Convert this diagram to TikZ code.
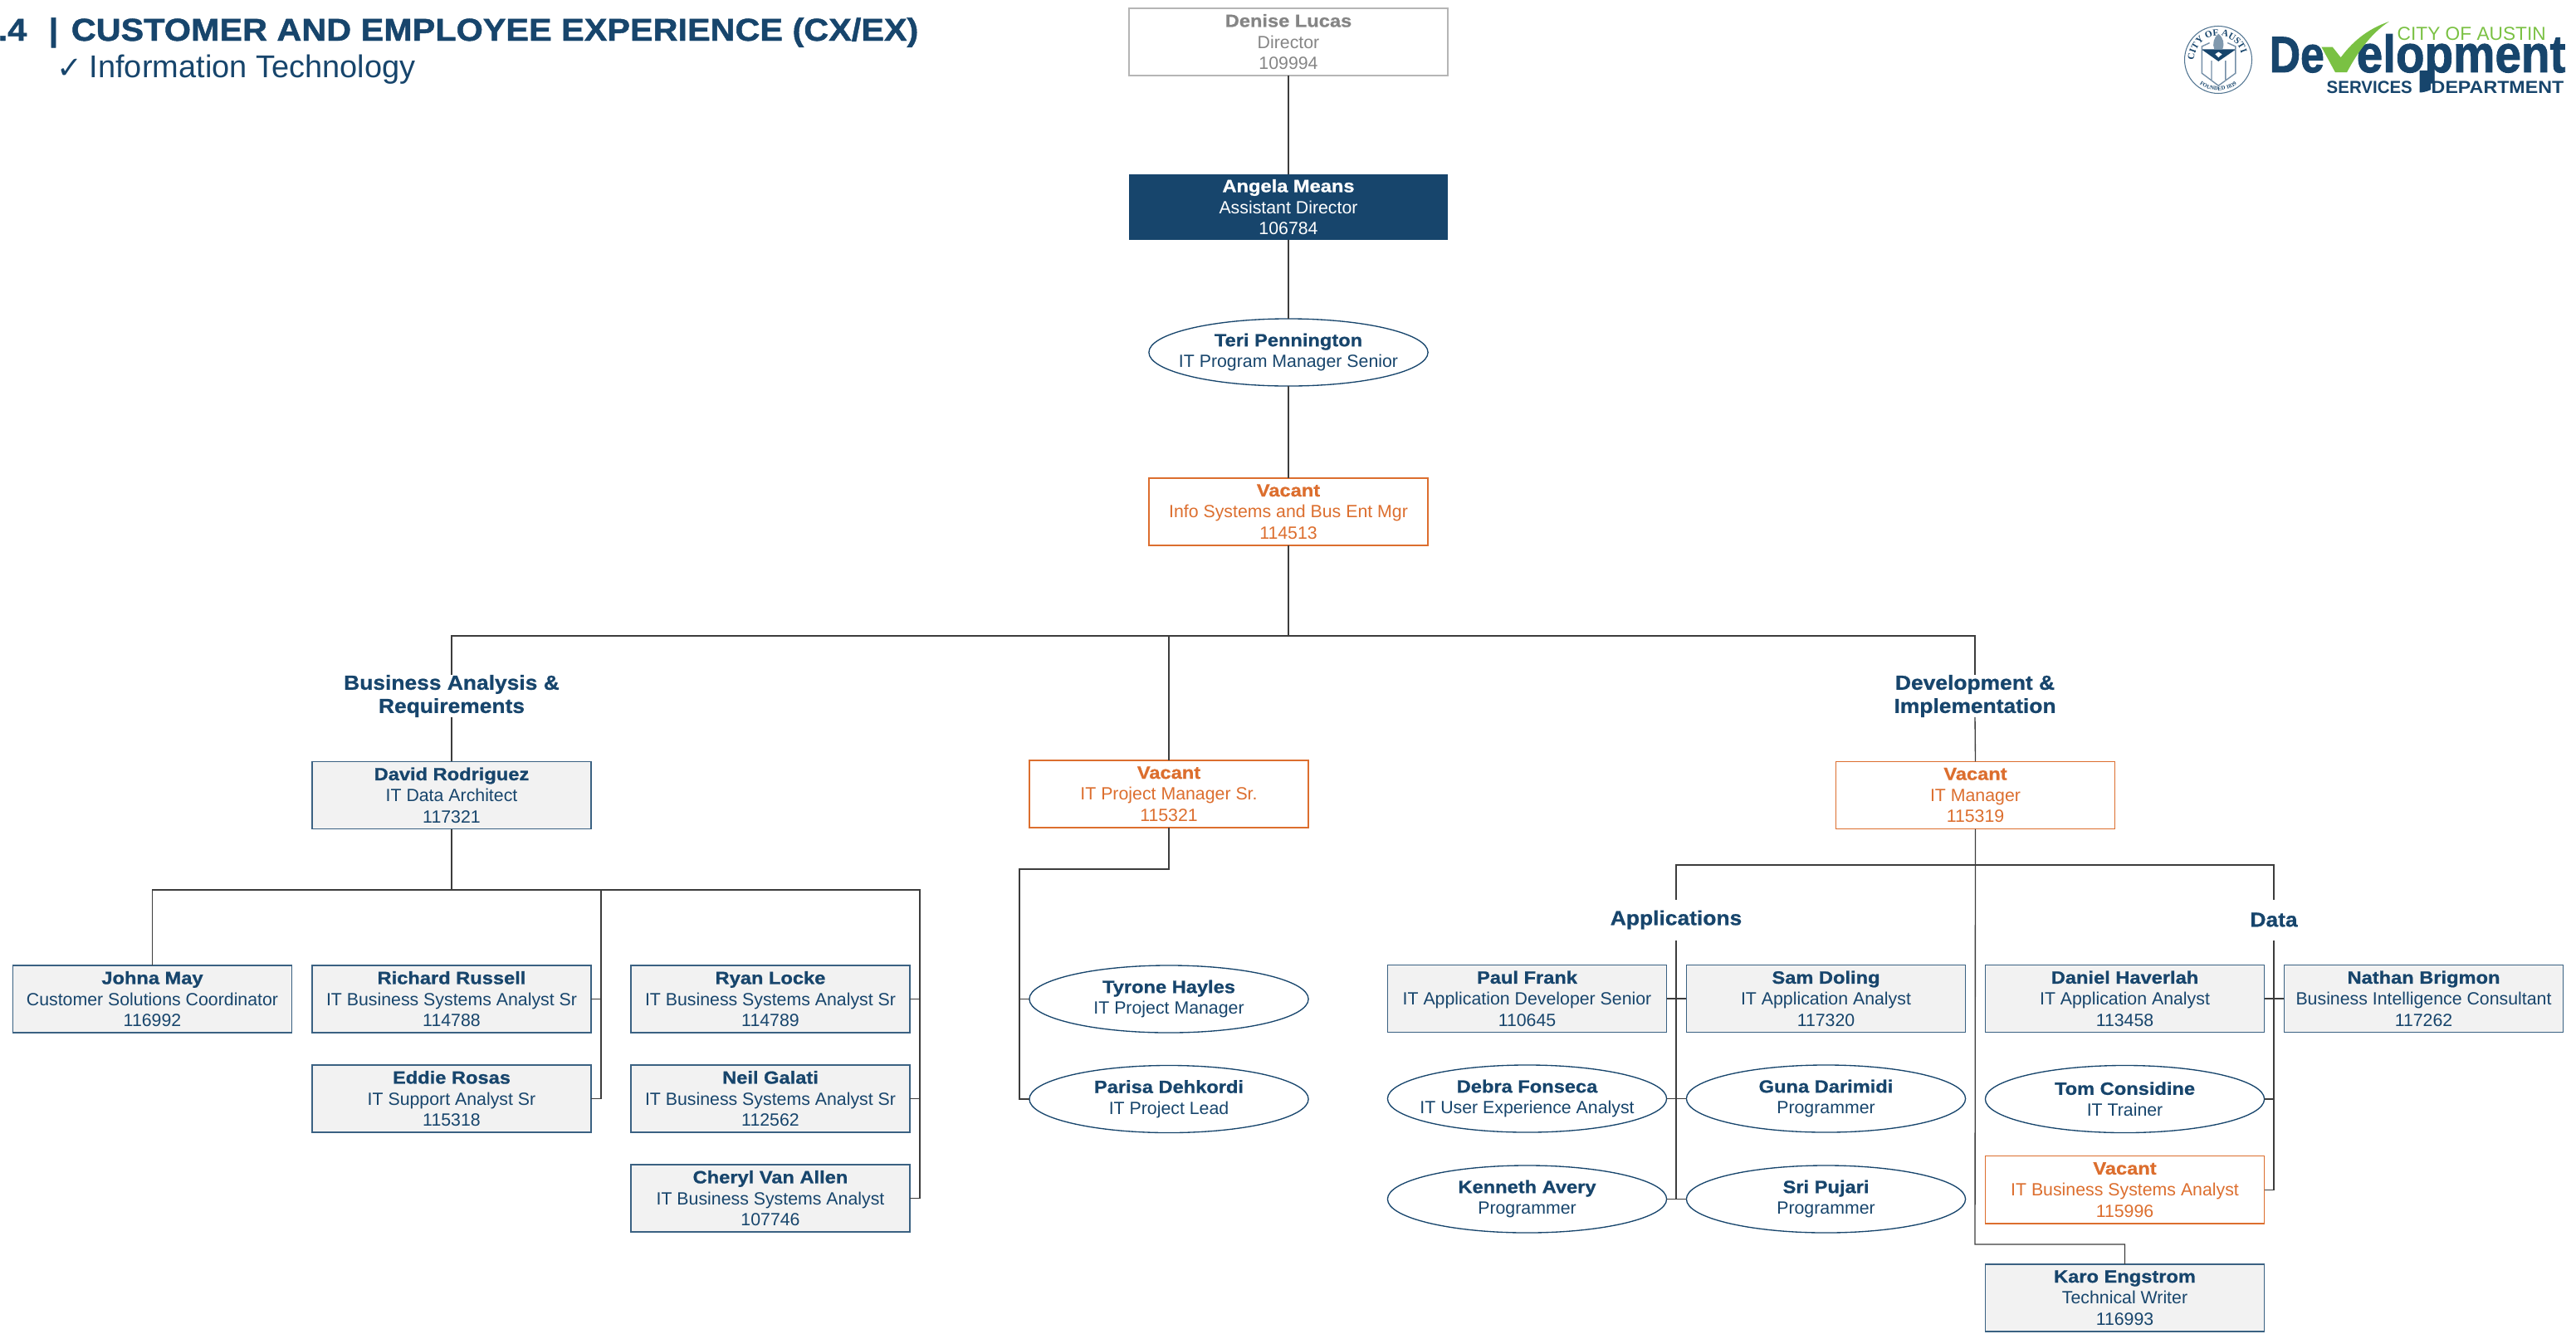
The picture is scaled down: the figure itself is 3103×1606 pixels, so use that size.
\documentclass[tikz,border=0pt]{standalone}
\usepackage{fontspec}
\usepackage{graphicx}
\usetikzlibrary{shapes.geometric,decorations.text,calc}
\setmainfont{Liberation Sans}
\newfontfamily\namef[FakeStretch=1.11,FakeBold=0.9]{Liberation Sans Bold}
\newfontfamily\grpf[FakeStretch=1.08,FakeBold=0.9]{Liberation Sans Bold}
\newfontfamily\titlef[FakeStretch=1.09,FakeBold=1.3]{Liberation Sans Bold}
\newfontfamily\logof[FakeBold=1.5]{Liberation Sans Bold}
\newfontfamily\checkf{DejaVu Sans}
\newfontfamily\sealf{Liberation Serif}
\definecolor{navy}{HTML}{17456C}
\definecolor{vac}{HTML}{DC6E2E}
\definecolor{boxgray}{HTML}{F2F2F2}
\definecolor{dirgray}{HTML}{858585}
\definecolor{dirline}{HTML}{B5B5B5}
\definecolor{connc}{HTML}{3C3C3C}
\definecolor{logogreen}{HTML}{7AC143}
\newcommand{\nm}[1]{{\namef #1}}
\tikzset{
  base/.style={inner sep=0pt,outer sep=0pt,align=center,minimum width=3.36cm,minimum height=0.81cm,
    font=\fontsize{6.06}{7.3}\selectfont},
  pbox/.style={base,draw=navy!85,line width=0.45pt,fill=boxgray,text=navy},
  vbox/.style={base,draw=vac,line width=0.42pt,text=vac},
  ell/.style={base,ellipse,inner xsep=-0.7cm,inner ysep=0pt,draw=navy,line width=0.38pt,text=navy},
  dirbox/.style={base,draw=dirline,line width=0.5pt,text=dirgray,minimum width=3.84cm},
  adbox/.style={base,fill=navy,text=white,minimum width=3.83cm,minimum height=0.79cm},
  grp/.style={inner sep=0pt,outer sep=0pt,align=center,text=navy,minimum height=0.49cm,
    font=\fontsize{6.95}{7.97}\selectfont\grpf},
  conn/.style={draw=connc,line width=0.38pt},
}
\begin{document}
\begin{tikzpicture}[x=0.01cm,y=-0.01cm]
\useasboundingbox (0,0) rectangle (3103,1606);

% heading
\node[anchor=base west,inner sep=0pt,text=navy,font=\fontsize{10.8}{12}\selectfont\titlef] (head) at (-3,49) {.4\hspace{2.65mm}|\hspace{1.55mm}CUSTOMER AND EMPLOYEE EXPERIENCE (CX/EX)};
\node[anchor=base west,inner sep=0pt,text=navy,font=\fontsize{10.8}{12}\selectfont] (subhead) at (107,93) {Information Technology};
\node[anchor=base west,inner sep=0pt,text=navy,font=\fontsize{10.5}{12}\selectfont\checkf] (tick) at (68,94) {✓};

% logo: seal
\begin{scope}[shift={(2672,72)},x=0.01cm,y=0.01cm]
  \draw[navy!75,line width=0.3pt] (0,0) circle[radius=40.5];
  \path[decorate,decoration={text along path,text align=center,text color=navy,
    text={|\fontsize{3.2}{4}\selectfont\sealf\bfseries|CITY OF AUSTIN}}]
    (165:29) arc[start angle=165,end angle=15,radius=29];
  \path[decorate,decoration={text along path,text align=center,text color=navy,
    text={|\fontsize{1.9}{3}\selectfont\sealf\bfseries|FOUNDED 1839}}]
    (218:37) arc[start angle=218,end angle=322,radius=37];
  \fill[navy] (-28,10) circle[radius=1.1] (28,10) circle[radius=1.1];
\end{scope}
\begin{scope}[shift={(2620,20)},x=0.00333cm,y=-0.00333cm]
  \draw[navy!60,line width=0.4pt] (97,120) -- (97,205) -- (157,250) -- (219,205) -- (219,120)
     (132,160) -- (132,228) (183,160) -- (183,228);
  \fill[navy] (95,118) -- (221,118) -- (157,162) -- cycle;
  \fill[white] (157,128) -- (170,136) -- (157,148) -- (145,136) -- cycle;
  \draw[navy!60,line width=0.4pt] (97,118) -- (97,108) -- (125,95) (219,118) -- (219,108) -- (190,95);
  \fill[navy!55] (157,62) .. controls (175,75) and (180,100) .. (172,118) -- (142,118) .. controls (134,100) and (140,75) .. (157,62) -- cycle;
\end{scope}

% logo: wordmark
\node[anchor=base west,inner sep=0pt,text=navy,font=\fontsize{17.5}{18}\selectfont\logof] (logoA) at (2733,87) {\scalebox{0.84}[1]{De}};
\node[anchor=base west,inner sep=0pt,text=navy,font=\fontsize{17.5}{18}\selectfont\logof] (logoB) at (2838,87) {\scalebox{0.92}[1.03]{elopment}};
\node[anchor=base west,inner sep=0pt,text=logogreen,font=\fontsize{6.45}{8}\selectfont] (logoC) at (2887,48) {CITY OF AUSTIN};
\node[anchor=base west,inner sep=0pt,text=navy,font=\fontsize{6}{8}\selectfont\bfseries] (logoD) at (2802,112) {\scalebox{0.97}[1]{SERVICES}};
\node[anchor=base west,inner sep=0pt,text=navy,font=\fontsize{6}{8}\selectfont\bfseries] (logoE) at (2928,112) {\scalebox{1.1}[1]{DEPARTMENT}};
\begin{scope}[shift={(2600,0)},x=0.00333cm,y=-0.00333cm]
  \fill[logogreen] (590,170) -- (630,170) -- (660,208) .. controls (710,140) and (770,100) .. (835,78)
     .. controls (770,120) and (720,190) .. (682,262) -- (640,262) -- cycle;
  \fill[navy] (945,255) -- (985,255) -- (985,325) .. controls (970,332) and (955,335) .. (945,335) -- cycle;
\end{scope}

% top chain
\node[dirbox] (denise) at (1552,50.5) {\nm{Denise Lucas}\\Director\\109994};
\node[adbox] (angela) at (1552,249.5) {\nm{Angela Means}\\Assistant Director\\106784};
\node[ell] (teri) at (1552,424.5) {\nm{Teri Pennington}\\IT Program Manager Senior};
\node[vbox] (vacA) at (1552,616.5) {\nm{Vacant}\\Info Systems and Bus Ent Mgr\\114513};

% group labels
\node[grp] (gBA) at (544,838.5) {Business Analysis \&\\Requirements};
\node[grp] (gDI) at (2379,838.5) {Development \&\\Implementation};
\node[grp] (gApp) at (2019,1108) {Applications};
\node[grp] (gData) at (2739,1108) {Data};

% second level
\node[pbox] (david) at (544,958) {\nm{David Rodriguez}\\IT Data Architect\\117321};
\node[vbox] (vacPM) at (1408,956.5) {\nm{Vacant}\\IT Project Manager Sr.\\115321};
\node[vbox] (vacIT) at (2379.5,958) {\nm{Vacant}\\IT Manager\\115319};

% business analysis
\node[pbox] (johna) at (183.5,1203.5) {\nm{Johna May}\\Customer Solutions Coordinator\\116992};
\node[pbox] (richard) at (544,1203.5) {\nm{Richard Russell}\\IT Business Systems Analyst Sr\\114788};
\node[pbox] (eddie) at (544,1323.5) {\nm{Eddie Rosas}\\IT Support Analyst Sr\\115318};
\node[pbox] (ryan) at (928,1203.5) {\nm{Ryan Locke}\\IT Business Systems Analyst Sr\\114789};
\node[pbox] (neil) at (928,1323.5) {\nm{Neil Galati}\\IT Business Systems Analyst Sr\\112562};
\node[pbox] (cheryl) at (928,1443.5) {\nm{Cheryl Van Allen}\\IT Business Systems Analyst\\107746};

% project managers
\node[ell] (tyrone) at (1408,1203.5) {\nm{Tyrone Hayles}\\IT Project Manager};
\node[ell] (parisa) at (1408,1324) {\nm{Parisa Dehkordi}\\IT Project Lead};

% applications
\node[pbox] (paul) at (1839.5,1203) {\nm{Paul Frank}\\IT Application Developer Senior\\110645};
\node[pbox] (sam) at (2199.5,1203) {\nm{Sam Doling}\\IT Application Analyst\\117320};
\node[ell] (debra) at (1839.5,1323.5) {\nm{Debra Fonseca}\\IT User Experience Analyst};
\node[ell] (guna) at (2199.5,1323.5) {\nm{Guna Darimidi}\\Programmer};
\node[ell] (kenneth) at (1839.5,1444.5) {\nm{Kenneth Avery}\\Programmer};
\node[ell] (sri) at (2199.5,1444.5) {\nm{Sri Pujari}\\Programmer};

% data
\node[pbox] (daniel) at (2559.5,1203) {\nm{Daniel Haverlah}\\IT Application Analyst\\113458};
\node[pbox] (nathan) at (2919.5,1203) {\nm{Nathan Brigmon}\\Business Intelligence Consultant\\117262};
\node[ell] (tom) at (2559.5,1324) {\nm{Tom Considine}\\IT Trainer};
\node[vbox] (vacD) at (2559.5,1433.25) {\nm{Vacant}\\IT Business Systems Analyst\\115996};
\node[pbox] (karo) at (2559.5,1563.5) {\nm{Karo Engstrom}\\Technical Writer\\116993};

% bus coordinates
\coordinate (busTop) at (1552,766);
\coordinate (busBA) at (544,1072);
\coordinate (col1) at (724,1072);
\coordinate (col2) at (1108,1072);
\coordinate (pmElbow) at (1408,1047);
\coordinate (pmRail) at (1228,1047);
\coordinate (busIT) at (2379,1042);
\coordinate (karoElbow) at (2379,1499);

% connectors
\draw[conn] (denise.south) -- (angela.north);
\draw[conn] (angela.south) -- (teri.north);
\draw[conn] (teri.south) -- (vacA.north);
\draw[conn] (vacA.south) -- (busTop);
\draw[conn] (gBA.north) |- (busTop) -| (gDI.north);
\draw[conn] (vacPM.north) -- (vacPM.north |- busTop);
\draw[conn] (gBA.south) -- (david.north);
\draw[conn] (gDI.south) -- (vacIT.north);

\draw[conn] (david.south) -- (busBA);
\draw[conn] (johna.north) |- (busBA) -- (col2) -- (col2 |- cheryl.east) -- (cheryl.east);
\draw[conn] (col1) -- (col1 |- eddie.east) -- (eddie.east);
\draw[conn] (richard.east) -- (richard.east -| col1);
\draw[conn] (ryan.east) -- (ryan.east -| col2);
\draw[conn] (neil.east) -- (neil.east -| col2);

\draw[conn] (vacPM.south) -- (pmElbow) -- (pmRail) -- (pmRail |- parisa.west) -- (parisa.west);
\draw[conn] (tyrone.west) -- (tyrone.west -| pmRail);

\draw[conn] (vacIT.south) -- (karoElbow) -| (karo.north);
\draw[conn] (gApp.north) |- (busIT) -| (gData.north);
\draw[conn] (gApp.south) -- (gApp.south |- kenneth.east);
\draw[conn] (paul.east) -- (sam.west);
\draw[conn] (debra.east) -- (guna.west);
\draw[conn] (kenneth.east) -- (sri.west);
\draw[conn] (gData.south) -- (gData.south |- vacD.east) -- (vacD.east);
\draw[conn] (daniel.east) -- (nathan.west);
\draw[conn] (tom.east) -- (tom.east -| gData.south);
\end{tikzpicture}
\end{document}
